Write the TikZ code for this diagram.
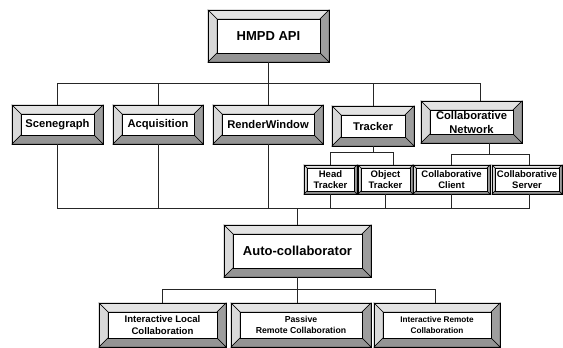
\documentclass[tikz,border=0pt]{standalone}
\usepackage{fontspec}
\setmainfont{Liberation Sans}
\usetikzlibrary{calc}
\definecolor{bevtop}{gray}{0.89}
\definecolor{bevleft}{gray}{0.85}
\definecolor{bevright}{gray}{0.62}
\definecolor{bevbottom}{gray}{0.58}
% bevelled box: name, centre x, centre y, width, height, bevel, font style, text
\newcommand\bevbox[8]{%
  \pgfmathsetmacro\bxL{#2-#4/2}\pgfmathsetmacro\bxR{#2+#4/2}%
  \pgfmathsetmacro\byT{#3-#5/2}\pgfmathsetmacro\byB{#3+#5/2}%
  \pgfmathsetmacro\bxl{\bxL+#6}\pgfmathsetmacro\bxr{\bxR-#6}%
  \pgfmathsetmacro\byt{\byT+#6}\pgfmathsetmacro\byb{\byB-#6}%
  \filldraw[bevel,fill=bevtop] (\bxL,\byT) -- (\bxR,\byT) -- (\bxr,\byt) -- (\bxl,\byt) -- cycle;
  \filldraw[bevel,fill=bevleft] (\bxL,\byT) -- (\bxl,\byt) -- (\bxl,\byb) -- (\bxL,\byB) -- cycle;
  \filldraw[bevel,fill=bevright] (\bxR,\byT) -- (\bxR,\byB) -- (\bxr,\byb) -- (\bxr,\byt) -- cycle;
  \filldraw[bevel,fill=bevbottom] (\bxL,\byB) -- (\bxR,\byB) -- (\bxr,\byb) -- (\bxl,\byb) -- cycle;
  \draw[bevel,fill=white] (\bxl,\byt) rectangle (\bxr,\byb);
  \node[boxnode,#7,minimum width=#4pt,minimum height=#5pt] (#1) at (#2,#3) {#8};
}
\begin{document}
\begin{tikzpicture}[x=1pt,y=-1pt,
    bevel/.style={draw=black,line width=0.5pt},
    boxnode/.style={draw=black,line width=0.8pt,inner sep=0pt,outer sep=0pt,align=center},
    hugetxt/.style={font=\fontsize{13}{15}\selectfont\bfseries},
    midtxt/.style={font=\fontsize{11.2}{14}\selectfont\bfseries},
    subtxt/.style={font=\fontsize{9.5}{11}\selectfont\bfseries},
    loctxt/.style={font=\fontsize{9.6}{12}\selectfont\bfseries},
    pastxt/.style={font=\fontsize{8.7}{11}\selectfont\bfseries},
    remtxt/.style={font=\fontsize{8.2}{11}\selectfont\bfseries},
    link/.style={draw=black!85,line width=0.7pt}]
  \useasboundingbox (0,0) rectangle (563,348);

  %% boxes
  \bevbox{api}{268.5}{36}{121}{52}{9}{hugetxt}{HMPD API}
  \bevbox{sg}{57.5}{124.5}{91}{39}{9}{midtxt}{Scenegraph}
  \bevbox{aq}{158}{124.5}{90}{39}{9}{midtxt}{Acquisition}
  \bevbox{rw}{268}{124.5}{110}{39}{9}{midtxt}{RenderWindow}
  \bevbox{tr}{373}{126}{82}{40}{9}{midtxt}{Tracker}
  \bevbox{cn}{471.5}{122}{101}{42}{9}{midtxt}{Collaborative\\Network}
  \bevbox{ht}{330.5}{179.5}{53}{29}{3}{subtxt}{Head\\Tracker}
  \bevbox{ot}{385.5}{179.5}{55}{29}{3}{subtxt}{Object\\Tracker}
  \bevbox{cc}{451.5}{179.5}{77}{29}{3}{subtxt}{Collaborative\\Client}
  \bevbox{cs}{527}{179.5}{70}{29}{3}{subtxt}{Collaborative\\Server}
  \bevbox{auto}{297.5}{251}{147}{52}{9}{hugetxt}{Auto-collaborator}
  \bevbox{il}{162.5}{325}{127}{44}{9}{loctxt}{Interactive Local\\Collaboration}
  \bevbox{pr}{301}{325}{140}{44}{9}{pastxt}{Passive\\Remote Collaboration}
  \bevbox{ir}{437}{325}{126}{44}{9}{remtxt}{Interactive Remote\\Collaboration}

  %% connectors
  \coordinate (topbus) at (268,83);
  \coordinate (trbus) at (373,152);
  \coordinate (cnbus) at (489,154);
  \coordinate (lowbus) at (297,208.5);
  \coordinate (botbus) at (297,289);

  \draw[link] (api.south) -- (api.south |- topbus);
  \draw[link] (sg.north) |- ([xshift=8.5pt]cn.north |- topbus) -- ([xshift=8.5pt]cn.north);
  \foreach \b in {aq,rw,tr}
    \draw[link] (\b.north) -- (\b.north |- topbus);

  \draw[link] (tr.south) -- (tr.south |- trbus);
  \draw[link] (ht.north) |- ([xshift=8pt]ot.north |- trbus) -- ([xshift=8pt]ot.north);

  \draw[link] ([xshift=17.5pt]cn.south) -- ([xshift=17.5pt]cn.south |- cnbus);
  \draw[link] (cc.north) |- ([xshift=2pt]cs.north |- cnbus) -- ([xshift=2pt]cs.north);

  \draw[link] (sg.south) |- ([xshift=2pt]cs.south |- lowbus) -- ([xshift=2pt]cs.south);
  \foreach \b in {aq,rw,ht,ot,cc}
    \draw[link] (\b.south) -- (\b.south |- lowbus);
  \draw[link] (auto.north |- lowbus) -- (auto.north);

  \draw[link] (auto.south) -- (auto.south |- botbus);
  \draw[link] (il.north) |- ([xshift=-2pt]ir.north |- botbus) -- ([xshift=-2pt]ir.north);
  \draw[link] (auto.south |- botbus) -- (auto.south |- pr.north);
\end{tikzpicture}
\end{document}
